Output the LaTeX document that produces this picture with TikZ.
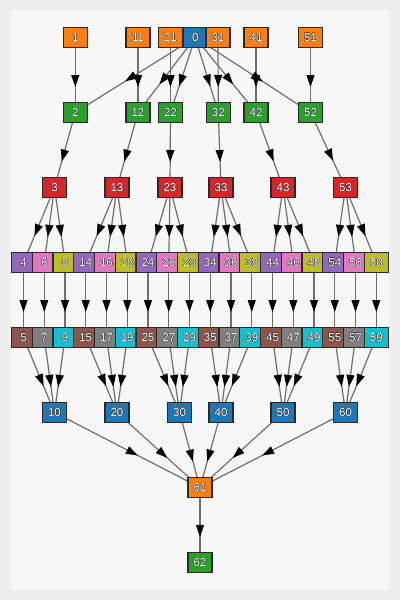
\documentclass[tikz,border=0pt]{standalone}
\usepackage{fontspec}
\setmainfont{Liberation Sans}
\usetikzlibrary{arrows.meta,decorations.markings}
\definecolor{outerbg}{HTML}{EEEEEE}
\definecolor{panelbg}{HTML}{F7F7F7}
\definecolor{edgegray}{HTML}{6E6E6E}
\definecolor{nodeborder}{HTML}{2A2A2A}
\definecolor{outl}{HTML}{333333}
\definecolor{c0}{HTML}{1F77B4}
\definecolor{c1}{HTML}{FF7F0E}
\definecolor{c2}{HTML}{2CA02C}
\definecolor{c3}{HTML}{D62728}
\definecolor{c4}{HTML}{9467BD}
\definecolor{c5}{HTML}{8C564B}
\definecolor{c6}{HTML}{E377C2}
\definecolor{c7}{HTML}{7F7F7F}
\definecolor{c8}{HTML}{BCBD22}
\definecolor{c9}{HTML}{17BECF}
\newcommand\halocopy[3]{\rlap{\color{outl}\kern#1\raise#2\hbox{#3}}}
\newcommand\lab[1]{\leavevmode
  \halocopy{-0.45pt}{0pt}{#1}\halocopy{0.45pt}{0pt}{#1}%
  \halocopy{0pt}{0.45pt}{#1}\halocopy{0pt}{-0.45pt}{#1}%
  \halocopy{-0.32pt}{0.32pt}{#1}\halocopy{0.32pt}{0.32pt}{#1}%
  \halocopy{-0.32pt}{-0.32pt}{#1}\halocopy{0.32pt}{-0.32pt}{#1}%
  \hbox{\color{white}#1}}
\pgfdeclarelayer{bglayer}
\pgfdeclarelayer{edgelayer}
\pgfsetlayers{bglayer,edgelayer,main}
\tikzset{
  nd/.style={draw=nodeborder, line width=1.2pt, rectangle, minimum width=24pt,
    minimum height=19.5pt, inner sep=0pt, outer sep=0pt, text=white,
    font=\fontsize{11.5}{11.5}\selectfont},
  ed/.style={draw=edgegray, line width=1.2pt, postaction={decorate},
    decoration={markings, mark=at position 0.5 with
      {\pgftransformxshift{12pt}\arrow{Triangle[length=12pt,width=8pt,color=black]}}}}
}
\begin{document}
\begin{tikzpicture}[x=1pt,y=-1pt]
\begin{pgfonlayer}{bglayer}
\fill[outerbg] (0,0) rectangle (400,600);
\fill[panelbg] (10,10) rectangle (390,590);
\end{pgfonlayer}
\useasboundingbox (0,0) rectangle (400,600);
% row 1
\node[nd, fill=c1] (n1)  at (75.3,37.5) {\lab{1}};
\node[nd, fill=c1] (n11) at (138,37.5) {\lab{11}};
\node[nd, fill=c1] (n21) at (170.5,37.5) {\lab{21}};
\node[nd, fill=c0] (n0)  at (195.2,37.5) {\lab{0}};
\node[nd, fill=c1] (n31) at (218,37.5) {\lab{31}};
\node[nd, fill=c1] (n41) at (256,37.5) {\lab{41}};
\node[nd, fill=c1] (n51) at (310.5,37.5) {\lab{51}};
% row 2
\node[nd, fill=c2] (n2)  at (75.3,112.5) {\lab{2}};
\node[nd, fill=c2] (n12) at (138,112.5) {\lab{12}};
\node[nd, fill=c2] (n22) at (170.5,112.5) {\lab{22}};
\node[nd, fill=c2] (n32) at (218.3,112.5) {\lab{32}};
\node[nd, fill=c2] (n42) at (256,112.5) {\lab{42}};
\node[nd, fill=c2] (n52) at (310.5,112.5) {\lab{52}};
% row 3
\node[nd, fill=c3] (n3)  at (54.5,187.5) {\lab{3}};
\node[nd, fill=c3] (n13) at (117,187.5) {\lab{13}};
\node[nd, fill=c3] (n23) at (170,187.5) {\lab{23}};
\node[nd, fill=c3] (n33) at (221,187.5) {\lab{33}};
\node[nd, fill=c3] (n43) at (283,187.5) {\lab{43}};
\node[nd, fill=c3] (n53) at (345.5,187.5) {\lab{53}};
% rows 4 and 5
\foreach \g in {0,...,5}{
  \foreach \j in {0,1,2}{
    \pgfmathtruncatemacro\top{10*\g+4+2*\j}
    \pgfmathtruncatemacro\bot{10*\g+5+2*\j}
    \pgfmathtruncatemacro\cu{4+2*\j}
    \pgfmathtruncatemacro\cl{5+2*\j}
    \pgfmathsetmacro\xx{23.5+20.75*(3*\g+\j)}
    \node[nd, fill=c\cu] (n\top) at (\xx,262.5) {\lab{\top}};
    \node[nd, fill=c\cl] (n\bot) at (\xx,337.5) {\lab{\bot}};
  }
}
% row 6
\node[nd, fill=c0] (n10) at (54.5,412.5) {\lab{10}};
\node[nd, fill=c0] (n20) at (117,412.5) {\lab{20}};
\node[nd, fill=c0] (n30) at (179.5,412.5) {\lab{30}};
\node[nd, fill=c0] (n40) at (221,412.5) {\lab{40}};
\node[nd, fill=c0] (n50) at (283,412.5) {\lab{50}};
\node[nd, fill=c0] (n60) at (345.5,412.5) {\lab{60}};
% bottom
\node[nd, fill=c1] (n61) at (200,487.5) {\lab{61}};
\node[nd, fill=c2] (n62) at (200,562.5) {\lab{62}};
% edges
\begin{pgfonlayer}{edgelayer}
\foreach \g in {0,...,5}{
  \pgfmathtruncatemacro\ta{10*\g+1}
  \pgfmathtruncatemacro\tb{10*\g+2}
  \pgfmathtruncatemacro\tc{10*\g+3}
  \pgfmathtruncatemacro\td{10*\g+10}
  \draw[ed] (n\ta) -- (n\tb);
  \draw[ed] (n0) -- (n\tb);
  \draw[ed] (n\tb) -- (n\tc);
  \draw[ed] (n\td) -- (n61);
  \foreach \j in {0,1,2}{
    \pgfmathtruncatemacro\top{10*\g+4+2*\j}
    \pgfmathtruncatemacro\bot{10*\g+5+2*\j}
    \draw[ed] (n\tc) -- (n\top);
    \draw[ed] (n\top) -- (n\bot);
    \draw[ed] (n\bot) -- (n\td);
  }
}
\draw[ed] (n61) -- (n62);
\end{pgfonlayer}
\end{tikzpicture}
\end{document}
